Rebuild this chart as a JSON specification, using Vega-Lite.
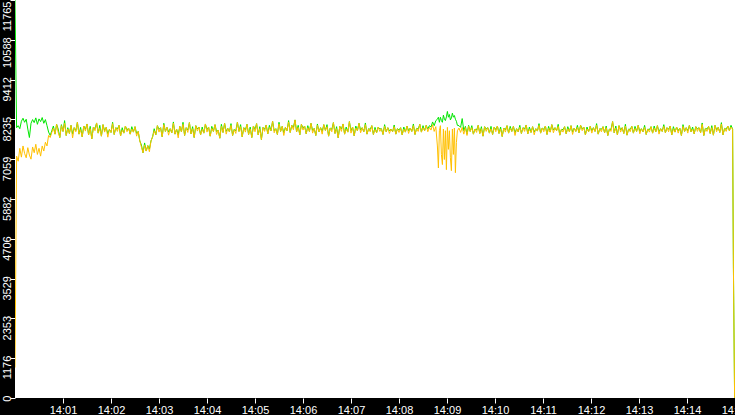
{
  "$schema": "https://vega.github.io/schema/vega-lite/v6.json",
  "width": 720,
  "height": 398,
  "autosize": {"type": "none"},
  "padding": {"left": 15, "top": 0, "right": 0, "bottom": 17},
  "background": "black",
  "config": {"view": {"fill": "white", "stroke": null}, "axis": {"labelOverlap": false, "labelFlush": false, "labelBound": false}},
  "data": {"values": [
    {"t":0,"a":11765,"b":900},{"t":2,"a":7990,"b":7150},{"t":4,"a":8050,"b":7000},{"t":6,"a":7960,"b":7380},{"t":8,"a":8180,"b":7120},{"t":10,"a":8270,"b":7450},{"t":12,"a":8150,"b":7230},{"t":14,"a":8240,"b":7100},{"t":16,"a":7950,"b":7400},{"t":18,"a":7700,"b":7180},{"t":20,"a":8120,"b":7060},{"t":22,"a":8230,"b":7420},
    {"t":24,"a":8140,"b":7250},{"t":26,"a":8280,"b":7500},{"t":28,"a":8090,"b":7200},{"t":30,"a":8250,"b":7380},{"t":32,"a":8170,"b":7150},{"t":34,"a":8290,"b":7450},{"t":36,"a":8120,"b":7300},{"t":38,"a":8230,"b":7560},{"t":40,"a":8050,"b":7450},{"t":42,"a":7860,"b":7760},{"t":44,"a":7760,"b":7700},{"t":46,"a":7900,"b":7850},
    {"t":48,"a":8040,"b":7980},{"t":50,"a":7800,"b":7800},{"t":52,"a":8090,"b":8090},{"t":54,"a":7950,"b":7850},{"t":56,"a":7700,"b":7700},{"t":58,"a":8080,"b":8050},{"t":60,"a":7880,"b":7880},{"t":62,"a":8200,"b":8120},{"t":64,"a":7760,"b":7760},{"t":66,"a":7990,"b":7950},
    {"t":68,"a":7820,"b":7820},{"t":70,"a":8060,"b":8060},{"t":72,"a":7800,"b":7690},{"t":74,"a":7990,"b":7990},{"t":76,"a":7900,"b":7870},{"t":78,"a":8150,"b":8150},{"t":80,"a":7800,"b":7800},{"t":82,"a":8000,"b":7930},{"t":84,"a":7720,"b":7720},{"t":86,"a":8040,"b":8040},
    {"t":88,"a":7940,"b":7890},{"t":90,"a":8100,"b":8100},{"t":92,"a":7780,"b":7780},{"t":94,"a":8030,"b":7960},{"t":96,"a":7660,"b":7660},{"t":98,"a":8010,"b":8010},{"t":100,"a":7960,"b":7900},{"t":102,"a":8130,"b":8130},{"t":104,"a":7830,"b":7830},{"t":106,"a":8060,"b":7970},
    {"t":108,"a":7740,"b":7740},{"t":110,"a":8080,"b":8080},{"t":112,"a":7900,"b":7860},{"t":114,"a":8000,"b":8000},{"t":116,"a":7810,"b":7710},{"t":118,"a":7940,"b":7940},{"t":120,"a":7850,"b":7850},{"t":122,"a":8150,"b":8110},{"t":124,"a":7790,"b":7790},{"t":126,"a":7990,"b":7990},
    {"t":128,"a":7950,"b":7880},{"t":130,"a":8060,"b":8060},{"t":132,"a":7750,"b":7750},{"t":134,"a":7990,"b":7920},{"t":136,"a":7830,"b":7830},{"t":138,"a":8040,"b":8040},{"t":140,"a":7920,"b":7870},{"t":142,"a":7980,"b":7980},{"t":144,"a":7800,"b":7800},{"t":146,"a":8020,"b":7950},
    {"t":148,"a":7860,"b":7860},{"t":150,"a":8020,"b":8020},{"t":152,"a":7820,"b":7740},{"t":154,"a":7880,"b":7880},{"t":156,"a":7600,"b":7600},{"t":158,"a":7480,"b":7420},{"t":160,"a":7250,"b":7250},{"t":162,"a":7540,"b":7480},{"t":164,"a":7300,"b":7300},{"t":166,"a":7460,"b":7460},
    {"t":168,"a":7360,"b":7280},{"t":170,"a":7600,"b":7600},{"t":172,"a":7720,"b":7720},{"t":174,"a":7960,"b":7900},{"t":176,"a":7780,"b":7780},{"t":178,"a":8050,"b":8050},{"t":180,"a":7940,"b":7860},{"t":182,"a":7990,"b":7990},{"t":184,"a":7720,"b":7720},{"t":186,"a":8120,"b":8080},
    {"t":188,"a":7880,"b":7880},{"t":190,"a":8000,"b":8000},{"t":192,"a":7860,"b":7770},{"t":194,"a":7960,"b":7960},{"t":196,"a":7840,"b":7840},{"t":198,"a":8160,"b":8120},{"t":200,"a":7800,"b":7800},{"t":202,"a":7950,"b":7950},{"t":204,"a":7780,"b":7690},{"t":206,"a":8030,"b":8030},
    {"t":208,"a":7870,"b":7870},{"t":210,"a":8150,"b":8090},{"t":212,"a":7760,"b":7760},{"t":214,"a":7990,"b":7990},{"t":216,"a":7920,"b":7850},{"t":218,"a":8140,"b":8140},{"t":220,"a":7810,"b":7810},{"t":222,"a":8020,"b":7960},{"t":224,"a":7700,"b":7700},{"t":226,"a":8050,"b":8050},
    {"t":228,"a":7950,"b":7890},{"t":230,"a":8010,"b":8010},{"t":232,"a":7780,"b":7780},{"t":234,"a":8010,"b":7940},{"t":236,"a":7830,"b":7830},{"t":238,"a":8100,"b":8100},{"t":240,"a":7930,"b":7860},{"t":242,"a":8010,"b":8010},{"t":244,"a":7740,"b":7740},{"t":246,"a":8030,"b":7970},
    {"t":248,"a":7880,"b":7880},{"t":250,"a":8080,"b":8080},{"t":252,"a":7870,"b":7790},{"t":254,"a":7920,"b":7920},{"t":256,"a":7680,"b":7680},{"t":258,"a":8090,"b":8030},{"t":260,"a":7850,"b":7850},{"t":262,"a":8120,"b":8120},{"t":264,"a":7880,"b":7800},{"t":266,"a":7970,"b":7970},
    {"t":268,"a":7870,"b":7870},{"t":270,"a":8110,"b":8060},{"t":272,"a":7760,"b":7760},{"t":274,"a":7940,"b":7940},{"t":276,"a":7900,"b":7820},{"t":278,"a":8150,"b":8150},{"t":280,"a":7880,"b":7880},{"t":282,"a":8080,"b":8020},{"t":284,"a":7720,"b":7720},{"t":286,"a":7990,"b":7990},
    {"t":288,"a":7930,"b":7860},{"t":290,"a":8090,"b":8090},{"t":292,"a":7790,"b":7790},{"t":294,"a":8010,"b":7950},{"t":296,"a":7700,"b":7700},{"t":298,"a":8040,"b":8040},{"t":300,"a":7940,"b":7870},{"t":302,"a":8110,"b":8110},{"t":304,"a":7780,"b":7780},{"t":306,"a":8020,"b":7960},
    {"t":308,"a":7640,"b":7640},{"t":310,"a":8000,"b":8000},{"t":312,"a":7940,"b":7880},{"t":314,"a":8070,"b":8070},{"t":316,"a":7810,"b":7810},{"t":318,"a":8060,"b":7990},{"t":320,"a":7900,"b":7900},{"t":322,"a":8180,"b":8180},{"t":324,"a":7900,"b":7840},{"t":326,"a":7960,"b":7960},
    {"t":328,"a":7790,"b":7790},{"t":330,"a":8150,"b":8100},{"t":332,"a":7880,"b":7880},{"t":334,"a":8030,"b":8030},{"t":336,"a":7840,"b":7760},{"t":338,"a":8000,"b":8000},{"t":340,"a":7900,"b":7900},{"t":342,"a":8200,"b":8160},{"t":344,"a":7850,"b":7850},{"t":346,"a":8060,"b":8060},
    {"t":348,"a":8000,"b":7930},{"t":350,"a":8220,"b":8220},{"t":352,"a":7870,"b":7870},{"t":354,"a":8060,"b":8000},{"t":356,"a":7780,"b":7780},{"t":358,"a":8090,"b":8090},{"t":360,"a":7980,"b":7920},{"t":362,"a":8040,"b":8040},{"t":364,"a":7810,"b":7810},{"t":366,"a":8050,"b":7990},
    {"t":368,"a":7880,"b":7880},{"t":370,"a":8120,"b":8120},{"t":372,"a":7910,"b":7830},{"t":374,"a":7970,"b":7970},{"t":376,"a":7760,"b":7760},{"t":378,"a":8100,"b":8060},{"t":380,"a":7870,"b":7870},{"t":382,"a":7990,"b":7990},{"t":384,"a":7880,"b":7800},{"t":386,"a":8080,"b":8080},
    {"t":388,"a":7910,"b":7910},{"t":390,"a":8080,"b":8020},{"t":392,"a":7740,"b":7740},{"t":394,"a":7980,"b":7980},{"t":396,"a":7940,"b":7870},{"t":398,"a":8140,"b":8140},{"t":400,"a":7820,"b":7820},{"t":402,"a":8020,"b":7960},{"t":404,"a":7690,"b":7690},{"t":406,"a":8030,"b":8030},
    {"t":408,"a":7950,"b":7880},{"t":410,"a":8100,"b":8100},{"t":412,"a":7800,"b":7800},{"t":414,"a":8010,"b":7950},{"t":416,"a":7860,"b":7860},{"t":418,"a":8170,"b":8170},{"t":420,"a":7900,"b":7830},{"t":422,"a":8010,"b":8010},{"t":424,"a":7750,"b":7750},{"t":426,"a":8040,"b":7980},
    {"t":428,"a":7900,"b":7900},{"t":430,"a":8120,"b":8120},{"t":432,"a":7920,"b":7840},{"t":434,"a":7990,"b":7990},{"t":436,"a":7870,"b":7870},{"t":438,"a":8130,"b":8080},{"t":440,"a":7800,"b":7800},{"t":442,"a":7960,"b":7960},{"t":444,"a":7940,"b":7870},{"t":446,"a":8050,"b":8050},
    {"t":448,"a":7790,"b":7790},{"t":450,"a":8000,"b":7940},{"t":452,"a":7840,"b":7840},{"t":454,"a":8010,"b":8010},{"t":456,"a":7950,"b":7880},{"t":458,"a":7960,"b":7960},{"t":460,"a":7790,"b":7790},{"t":462,"a":8080,"b":8030},{"t":464,"a":7870,"b":7870},{"t":466,"a":7990,"b":7990},
    {"t":468,"a":7900,"b":7820},{"t":470,"a":7950,"b":7950},{"t":472,"a":7870,"b":7870},{"t":474,"a":8070,"b":8020},{"t":476,"a":7800,"b":7800},{"t":478,"a":7960,"b":7960},{"t":480,"a":7920,"b":7850},{"t":482,"a":7990,"b":7990},{"t":484,"a":7780,"b":7780},{"t":486,"a":8010,"b":7950},
    {"t":488,"a":7860,"b":7860},{"t":490,"a":8040,"b":8040},{"t":492,"a":7900,"b":7820},{"t":494,"a":7980,"b":7980},{"t":496,"a":7880,"b":7880},{"t":498,"a":8100,"b":8050},{"t":500,"a":7790,"b":7790},{"t":502,"a":7970,"b":7970},{"t":504,"a":7950,"b":7880},{"t":506,"a":8090,"b":8090},
    {"t":508,"a":7860,"b":7860},{"t":510,"a":8050,"b":7990},{"t":512,"a":7900,"b":7900},{"t":514,"a":8060,"b":8060},{"t":516,"a":7950,"b":7870},{"t":518,"a":8050,"b":8000},{"t":520,"a":8010,"b":7920},{"t":522,"a":8160,"b":8080},{"t":524,"a":8050,"b":7880},{"t":526,"a":8200,"b":8020},
    {"t":528,"a":8240,"b":7450},{"t":529.25,"a":8300,"b":6800},{"t":530.5,"a":8150,"b":7900},{"t":531.75,"a":8300,"b":8050},{"t":533,"a":8200,"b":7200},{"t":534.25,"a":8150,"b":6900},{"t":535.5,"a":8360,"b":7950},{"t":536.75,"a":8250,"b":7050},{"t":538,"a":8200,"b":7900},{"t":539.25,"a":8310,"b":6750},
    {"t":540.5,"a":8470,"b":8000},{"t":541.75,"a":8300,"b":7350},{"t":543,"a":8380,"b":7900},{"t":544.25,"a":8220,"b":7100},{"t":545.5,"a":8280,"b":6720},{"t":546.75,"a":8420,"b":7950},{"t":548,"a":8300,"b":7200},{"t":549.25,"a":8350,"b":7980},{"t":550.5,"a":8240,"b":6660},{"t":551.75,"a":8180,"b":7550},
    {"t":553,"a":8060,"b":7900},{"t":555,"a":8050,"b":7980},{"t":557,"a":8000,"b":7850},{"t":559,"a":8260,"b":8000},{"t":561,"a":7900,"b":7800},{"t":563,"a":8030,"b":7990},{"t":565,"a":7800,"b":7760},{"t":567,"a":8060,"b":8030},{"t":569,"a":7880,"b":7880},{"t":571,"a":8050,"b":7990},
    {"t":573,"a":7800,"b":7800},{"t":575,"a":7950,"b":7950},{"t":577,"a":7920,"b":7850},{"t":579,"a":8060,"b":8060},{"t":581,"a":7820,"b":7820},{"t":583,"a":8020,"b":7960},{"t":585,"a":7740,"b":7740},{"t":587,"a":8020,"b":8020},{"t":589,"a":7950,"b":7880},{"t":591,"a":7990,"b":7990},
    {"t":593,"a":7830,"b":7830},{"t":595,"a":8030,"b":7960},{"t":597,"a":7790,"b":7790},{"t":599,"a":8010,"b":8010},{"t":601,"a":7930,"b":7870},{"t":603,"a":8040,"b":8040},{"t":605,"a":7820,"b":7820},{"t":607,"a":8010,"b":7950},{"t":609,"a":7730,"b":7730},{"t":611,"a":7980,"b":7980},
    {"t":613,"a":7930,"b":7860},{"t":615,"a":8050,"b":8050},{"t":617,"a":7830,"b":7830},{"t":619,"a":8030,"b":7970},{"t":621,"a":7880,"b":7880},{"t":623,"a":8030,"b":8030},{"t":625,"a":7840,"b":7760},{"t":627,"a":7960,"b":7960},{"t":629,"a":7870,"b":7870},{"t":631,"a":8060,"b":8000},
    {"t":633,"a":7820,"b":7820},{"t":635,"a":7990,"b":7990},{"t":637,"a":7950,"b":7880},{"t":639,"a":8070,"b":8070},{"t":641,"a":7810,"b":7810},{"t":643,"a":8010,"b":7950},{"t":645,"a":7850,"b":7850},{"t":647,"a":8020,"b":8020},{"t":649,"a":7860,"b":7780},{"t":651,"a":7960,"b":7960},
    {"t":653,"a":7890,"b":7890},{"t":655,"a":8110,"b":8060},{"t":657,"a":7830,"b":7830},{"t":659,"a":7980,"b":7980},{"t":661,"a":7940,"b":7870},{"t":663,"a":8040,"b":8040},{"t":665,"a":7790,"b":7790},{"t":667,"a":8030,"b":7970},{"t":669,"a":7860,"b":7860},{"t":671,"a":8080,"b":8080},
    {"t":673,"a":7920,"b":7840},{"t":675,"a":7990,"b":7990},{"t":677,"a":7900,"b":7900},{"t":679,"a":8090,"b":8030},{"t":681,"a":7770,"b":7770},{"t":683,"a":7940,"b":7940},{"t":685,"a":7930,"b":7860},{"t":687,"a":8020,"b":8020},{"t":689,"a":7810,"b":7810},{"t":691,"a":8020,"b":7960},
    {"t":693,"a":7870,"b":7870},{"t":695,"a":8050,"b":8050},{"t":697,"a":7860,"b":7790},{"t":699,"a":7980,"b":7980},{"t":701,"a":7880,"b":7880},{"t":703,"a":8060,"b":8000},{"t":705,"a":7840,"b":7840},{"t":707,"a":8060,"b":8060},{"t":709,"a":7960,"b":7900},{"t":711,"a":8010,"b":8010},
    {"t":713,"a":7780,"b":7780},{"t":715,"a":8010,"b":7950},{"t":717,"a":7870,"b":7870},{"t":719,"a":8030,"b":8030},{"t":721,"a":7900,"b":7830},{"t":723,"a":7990,"b":7990},{"t":725,"a":7880,"b":7880},{"t":727,"a":8110,"b":8060},{"t":729,"a":7800,"b":7800},{"t":731,"a":7960,"b":7960},
    {"t":733,"a":7940,"b":7870},{"t":735,"a":8020,"b":8020},{"t":737,"a":7840,"b":7840},{"t":739,"a":8040,"b":7990},{"t":741,"a":7760,"b":7760},{"t":743,"a":7950,"b":7950},{"t":745,"a":7940,"b":7880},{"t":747,"a":8170,"b":8170},{"t":749,"a":7840,"b":7840},{"t":751,"a":8040,"b":7980},
    {"t":753,"a":7780,"b":7780},{"t":755,"a":8050,"b":8050},{"t":757,"a":7930,"b":7860},{"t":759,"a":7990,"b":7990},{"t":761,"a":7820,"b":7820},{"t":763,"a":8090,"b":8040},{"t":765,"a":7770,"b":7770},{"t":767,"a":7950,"b":7950},{"t":769,"a":7940,"b":7870},{"t":771,"a":8030,"b":8030},
    {"t":773,"a":7830,"b":7830},{"t":775,"a":8030,"b":7970},{"t":777,"a":7880,"b":7880},{"t":779,"a":8060,"b":8060},{"t":781,"a":7880,"b":7810},{"t":783,"a":7960,"b":7960},{"t":785,"a":7870,"b":7870},{"t":787,"a":8060,"b":8000},{"t":789,"a":7790,"b":7790},{"t":791,"a":7950,"b":7950},
    {"t":793,"a":7930,"b":7860},{"t":795,"a":8020,"b":8020},{"t":797,"a":7830,"b":7830},{"t":799,"a":8040,"b":7980},{"t":801,"a":7870,"b":7870},{"t":803,"a":8050,"b":8050},{"t":805,"a":7870,"b":7800},{"t":807,"a":7960,"b":7960},{"t":809,"a":7880,"b":7880},{"t":811,"a":8080,"b":8030},
    {"t":813,"a":7840,"b":7840},{"t":815,"a":7990,"b":7990},{"t":817,"a":7940,"b":7870},{"t":819,"a":8040,"b":8040},{"t":821,"a":7780,"b":7780},{"t":823,"a":8020,"b":7960},{"t":825,"a":7860,"b":7860},{"t":827,"a":8010,"b":8010},{"t":829,"a":7900,"b":7830},{"t":831,"a":7980,"b":7980},
    {"t":833,"a":7760,"b":7760},{"t":835,"a":8080,"b":8030},{"t":837,"a":7880,"b":7880},{"t":839,"a":7990,"b":7990},{"t":841,"a":7900,"b":7830},{"t":843,"a":8060,"b":8060},{"t":845,"a":7870,"b":7870},{"t":847,"a":8010,"b":7950},{"t":849,"a":7810,"b":7810},{"t":851,"a":8020,"b":8020},
    {"t":853,"a":7950,"b":7880},{"t":855,"a":7990,"b":7990},{"t":857,"a":7840,"b":7840},{"t":859,"a":8130,"b":8090},{"t":861,"a":7760,"b":7760},{"t":863,"a":7970,"b":7970},{"t":865,"a":7950,"b":7880},{"t":867,"a":8030,"b":8030},{"t":869,"a":7820,"b":7820},{"t":871,"a":8050,"b":7990},
    {"t":873,"a":7770,"b":7770},{"t":875,"a":8060,"b":8060},{"t":877,"a":7930,"b":7870},{"t":879,"a":8000,"b":8000},{"t":881,"a":7850,"b":7850},{"t":883,"a":8140,"b":8100},{"t":885,"a":7780,"b":7780},{"t":887,"a":7970,"b":7970},{"t":889,"a":7940,"b":7880},{"t":891,"a":8040,"b":8040},
    {"t":893,"a":7900,"b":7900},{"t":895,"a":8060,"b":8010},{"t":897,"a":7950,"b":7950},{"t":898,"a":3930,"b":3930},{"t":899.5,"a":0,"b":0}
  ]},
  "transform": [{"fold": ["a", "b"], "as": ["series", "v"]}],
  "mark": {"type": "line", "strokeWidth": 1, "clip": true},
  "encoding": {
    "x": {
      "field": "t", "type": "quantitative",
      "scale": {"domain": [0, 900], "nice": false, "zero": false},
      "axis": {
        "title": null, "grid": false, "domain": false,
        "values": [60,120,180,240,300,360,420,480,540,600,660,720,780,840,900],
        "labelExpr": "'14:' + (datum.value < 600 ? '0' : '') + (datum.value / 60)",
        "tickColor": "white", "tickSize": 5, "tickWidth": 1,
        "labelColor": "white", "labelFont": "Liberation Sans", "labelFontSize": 11,
        "labelPadding": 1, "labelFlush": false, "labelOverlap": false, "labelBound": false
      }
    },
    "y": {
      "field": "v", "type": "quantitative",
      "scale": {"domain": [0, 11764.7], "nice": false},
      "axis": {
        "title": null, "grid": false, "domain": false,
        "values": [0, 1176.47, 2352.94, 3529.41, 4705.88, 5882.35, 7058.82, 8235.29, 9411.76, 10588.23, 11764.7],
        "format": ".0f",
        "tickColor": "white", "tickSize": 5, "tickWidth": 1,
        "labelColor": "white", "labelFont": "Liberation Sans", "labelFontSize": 11,
        "labelAngle": 270,
        "labelAlign": "right",
        "labelOffset": {"condition": {"test": "datum.value > 11000", "value": 1}, "value": -3},
        "labelBaseline": "alphabetic",
        "labelPadding": 0, "labelFlush": false, "labelOverlap": false, "labelBound": false
      }
    },
    "color": {
      "field": "series", "type": "nominal",
      "scale": {"domain": ["a", "b"], "range": ["#00E600", "#FFC000"]},
      "legend": null
    }
  }
}
